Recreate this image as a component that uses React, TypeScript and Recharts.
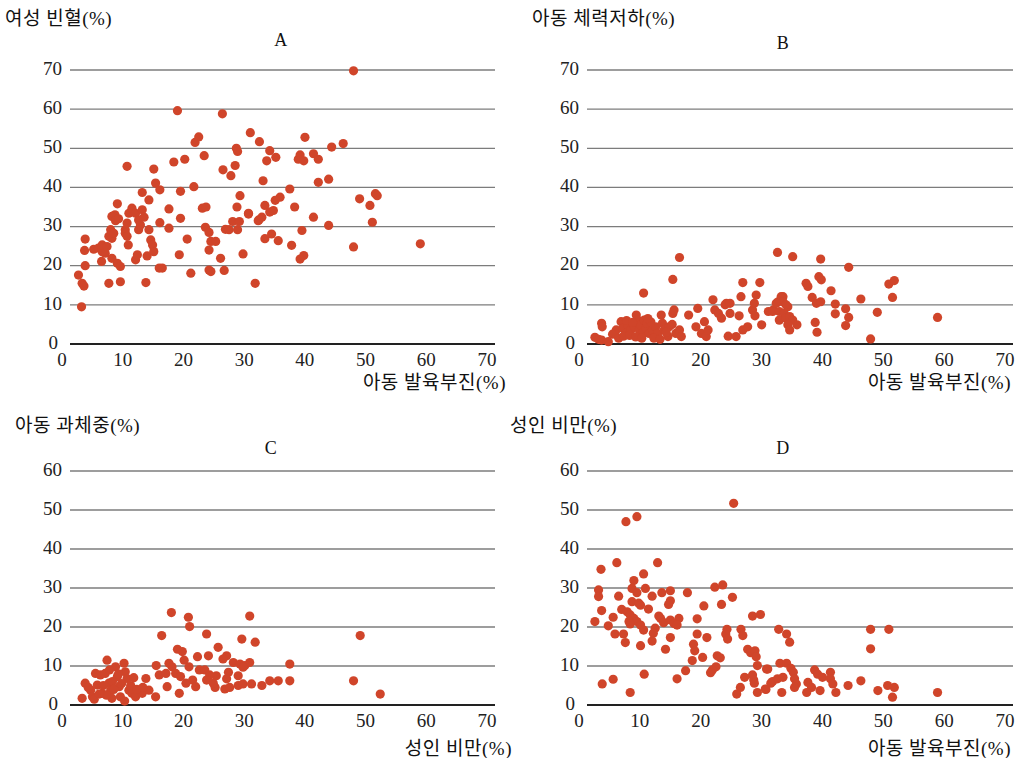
import { ScatterChart, Scatter, XAxis, YAxis, CartesianGrid } from "recharts"

// [x, y] pairs
const pointsA: [number, number][] = [
  [1.4, 17.6], [2.0, 15.5], [2.3, 14.8], [1.9, 9.5], [2.5, 26.8], [2.4, 23.9], [2.5, 20.0], [3.9, 24.2],
  [4.7, 24.5], [5.3, 23.6], [5.3, 25.3], [5.8, 23.2], [5.2, 21.1], [6.1, 24.9], [6.4, 27.5], [6.9, 27],
  [6.7, 29.2], [7.2, 28.3], [7.4, 33], [6.9, 32.6], [7.8, 35.8], [7.5, 31.5], [8, 32], [6.4, 15.5],
  [6.9, 21.9], [7.8, 20.6], [8.3, 19.8], [8.3, 15.9], [9.1, 29.2], [9.4, 30.9], [9.1, 28.3], [9.4, 27.5],
  [9.6, 25.3], [9.4, 45.4], [9.7, 33.4], [10.2, 34.7], [10.8, 33.4], [10.8, 21.5], [11.1, 22.8], [11.3, 29.2],
  [11.3, 31.7], [11.9, 38.7], [11.9, 34.3], [12.2, 32.4], [11.6, 30.4], [12.5, 15.7], [12.7, 22.5], [13, 29.2],
  [13, 36.8], [13.3, 26.6], [13.6, 25.3], [13.8, 23.6], [13.8, 44.7], [14.1, 41.1], [14.8, 39.4], [14.8, 31],
  [14.7, 19.4], [15.2, 19.4], [16.3, 34.5], [16.3, 29.6], [17.1, 46.5], [17.7, 59.6], [18, 22.8], [18.2, 39],
  [18.2, 32.1], [18.9, 47.2], [19.3, 26.8], [19.9, 18.1], [20.4, 40.2], [20.6, 51.5], [21.2, 52.9], [21.8, 34.7],
  [22.1, 48.1], [22.4, 35], [22.3, 29.8], [22.9, 28.5], [23.2, 26.2], [22.9, 24], [22.9, 18.9], [23.2, 18.5],
  [24, 26.2], [24.8, 21.9], [25.1, 58.8], [25.2, 44.5], [25.4, 18.8], [25.6, 29.3], [26.2, 29.2], [26.5, 43],
  [27.2, 45.6], [27.4, 50], [27.6, 49.2], [27.5, 35], [26.8, 31.3], [27.6, 29.2], [27.9, 31.3], [28, 37.9],
  [28.5, 23], [29.4, 33.2], [29.7, 54], [30.5, 15.5], [31.1, 31.7], [31.2, 51.7], [32.9, 49.4], [32.4, 46.8],
  [33.9, 47.7], [31.8, 41.7], [36.2, 39.6], [34.6, 37.5], [33.8, 36.7], [32.1, 35.4], [32.9, 33.7], [33.5, 34.1],
  [37, 35], [29.4, 33.4], [31, 31.5], [31.6, 32.4], [32.1, 26.9], [33.2, 28.1], [34.3, 26.4], [36.5, 25.2],
  [38.2, 29], [37.9, 21.7], [38.5, 22.6], [38.7, 52.8], [37.9, 48.3], [37.6, 47.2], [38.5, 46.8], [40.1, 48.6],
  [40.9, 47.2], [40.9, 41.3], [42.6, 42.1], [40.1, 32.4], [42.6, 30.3], [43.1, 50.3], [45, 51.2], [46.7, 69.8],
  [46.7, 24.8], [47.7, 37.1], [49.4, 35.4], [49.8, 31.1], [50.3, 38.4], [50.6, 37.9], [57.7, 25.6],
]

const pointsB: [number, number][] = [
  [1.3, 1.7], [2.4, 1], [1.9, 1.2], [2.4, 5.3], [2.5, 4.4], [3.5, 0.6], [4.8, 3.6], [5.6, 5.7],
  [5.9, 4], [6.4, 2.7], [6.7, 4.9], [7.2, 3.6], [7.8, 4.4], [8.1, 7.4], [8.3, 6.1], [8.6, 3.6],
  [8.8, 4.9], [9.1, 2.7], [9.4, 6.1], [9.7, 4], [9.9, 5.3], [10.2, 2.7], [9.3, 13], [10.8, 3.6],
  [11.3, 4.4], [11.6, 2.7], [12.2, 7.4], [12.4, 5.3], [12.7, 3.6], [13.3, 1.9], [13.5, 4.4], [14.1, 7.8],
  [14.3, 8.7], [14.1, 16.5], [15.2, 22.1], [14.6, 2.7], [15.2, 3.6], [15.5, 1.9], [16.7, 7.4], [18.2, 9.1],
  [17.9, 4.4], [18.8, 2.7], [19.3, 5.7], [19.6, 1.9], [19.9, 3.6], [20.7, 11.3], [21, 8.7], [21.6, 7.8],
  [22.1, 6.6], [22.7, 10], [22.9, 10.4], [23.2, 2], [23.5, 10.4], [23.5, 7.8], [24.5, 1.9], [25, 7.2],
  [25.3, 12.1], [25.6, 15.7], [25.6, 3.6], [26.4, 4.4], [27.2, 8.7], [27.5, 10.4], [27.6, 7.2], [27.8, 12.5],
  [28.4, 15.7], [28.7, 4.9], [29.8, 8.3], [30.6, 8.7], [31.4, 10.8], [31.3, 23.4], [32.2, 12.1], [33, 9.5],
  [33.3, 6.6], [33.8, 22.3], [38.4, 21.7], [43, 19.6], [36, 15.5], [36.3, 14.7], [38.1, 17.2], [38.5, 16.4],
  [40.1, 13.6], [37, 11.9], [37.7, 10.4], [38.4, 10.8], [40.8, 10.2], [42.5, 9], [40.8, 7.7], [43, 6.8],
  [42.5, 4.7], [37.5, 5.5], [37.8, 3], [45, 11.5], [47.7, 8.1], [46.6, 1.3], [49.6, 15.3], [50.5, 16.2],
  [50.2, 11.9], [57.6, 6.8], [31.9, 12.1], [32.2, 10.8], [31.1, 10.4], [32.7, 10], [30.5, 8.3], [31.6, 8.3],
  [32.4, 7.8], [31.6, 6.1], [32.7, 6.6], [33.3, 7], [33.8, 6.1], [33, 4.9], [34.5, 4.9], [33.3, 3.6],
  [4.2, 2.5], [5.2, 1.5], [6, 2], [7, 2.2], [8, 1.8], [10.5, 5.6], [11, 1.5], [12, 1.2],
  [6.5, 6], [7.5, 5.5], [9, 1.5], [10, 6.5], [13, 3], [14, 5],
]

const pointsC: [number, number][] = [
  [2, 1.7], [2.5, 5.6], [3.4, 3.8], [3.7, 2.1], [4.2, 8.1], [4.5, 5.1], [5, 7.7], [5.3, 3],
  [5.8, 8.1], [6.1, 11.5], [6.4, 5.6], [6.7, 3.8], [6.9, 1.7], [7.5, 9.8], [7.8, 7.3], [8.1, 4.7],
  [8.3, 2.1], [8.9, 10.7], [9.1, 8.5], [9.4, 6.8], [9.7, 3.8], [10.2, 3], [10.8, 2.1], [11.9, 3],
  [12.5, 6.8], [13, 3.8], [14.1, 2.1], [14.2, 10.1], [15.1, 17.8], [14.7, 7.7], [15.8, 8.1], [16, 4.7],
  [16.3, 10.7], [16.7, 23.7], [16.8, 9.8], [17.4, 8.1], [17.7, 14.3], [18, 3], [18.2, 7.3], [18.5, 13.7],
  [18.8, 11.5], [19.1, 5.6], [19.5, 22.5], [19.7, 20.1], [19.6, 9.8], [20.2, 6.4], [20.7, 4.7], [21, 12.4],
  [21.3, 9], [29.6, 22.8], [22.5, 18.2], [28.3, 16.9], [30.5, 16.1], [47.8, 17.8], [24.4, 14.8], [25.8, 12.6],
  [25.2, 11.8], [22.8, 12.6], [26.9, 10.9], [28, 10.5], [28.8, 10.1], [29.6, 10.9], [28.5, 9.7], [36.2, 10.5],
  [26.1, 8.4], [27.7, 7.5], [25.8, 6.7], [24.1, 7.5], [23.9, 4.5], [25.5, 4.1], [26.3, 4.5], [27.7, 5],
  [28.5, 5.4], [29.9, 5.4], [31.6, 5], [32.9, 6.2], [34.3, 6.2], [36.2, 6.2], [46.7, 6.2], [51.1, 2.8],
  [22.2, 9], [23, 7.7], [22.5, 6.4], [23.6, 5.6], [3, 4.5], [4, 1.5], [5.5, 5], [6, 2.5],
  [7, 6], [7.2, 4], [8.5, 5.5], [9, 1], [10, 5], [10.5, 7], [11, 4], [4.8, 2.8],
  [6.5, 9], [8, 8], [12, 4.5],
]

const pointsD: [number, number][] = [
  [24.1, 51.7], [6.4, 47], [8.2, 48.3], [4.9, 36.5], [11.6, 36.5], [2.3, 34.8], [9.3, 33.6], [7.7, 31.9],
  [9.6, 29.9], [7.4, 29.9], [8.2, 28.8], [1.9, 29.5], [1.9, 27.8], [5.2, 27.9], [10.7, 27.9], [12.3, 28.8],
  [13.7, 29.3], [16.5, 28.8], [21, 30.2], [22.3, 30.8], [23.9, 27.6], [22.1, 25.8], [19.2, 25.4], [13.7, 26.7],
  [13.4, 25.8], [7.4, 26.5], [8.5, 26.1], [8.8, 25.6], [10.1, 24.6], [5.7, 24.5], [2.4, 24.2], [6.6, 23.9],
  [7.1, 23.1], [4.3, 22.5], [11.8, 22.8], [12.1, 22.2], [7.7, 22.2], [6.9, 21.4], [8.2, 21.4], [12.6, 21.1],
  [13.7, 21.8], [15.1, 22.2], [14.3, 20.9], [14.8, 20.5], [18.1, 22.1], [1.3, 21.4], [3.5, 20.3], [7.1, 20.8],
  [8.8, 20.5], [9.3, 19.2], [11.2, 19.7], [10.9, 18.4], [4.6, 18.2], [6, 18.2], [18.1, 18.2], [13.7, 17.3],
  [10.7, 16.4], [6.3, 16], [19.7, 17.3], [23, 19.4], [22.8, 18.2], [23.1, 16.9], [25.3, 19.4], [25.6, 17.8],
  [27.2, 22.8], [28.5, 23.2], [8.8, 15.2], [12.9, 14.3], [17.5, 15.6], [17.7, 13.9], [19, 12.2], [17.3, 11.4],
  [21.4, 12.6], [21.9, 12.1], [26.4, 14.3], [26.9, 13.4], [27.6, 13.9], [27.8, 12.4], [28, 10.1], [29.7, 9.2],
  [21.2, 9.8], [20.6, 9], [20.3, 8.3], [16.2, 8.8], [9.4, 7.9], [14.8, 6.7], [4.3, 6.6], [2.5, 5.4],
  [7.1, 3.2], [25.9, 7.1], [27.2, 7.7], [27.4, 6.4], [27.5, 5.6], [25.2, 4.5], [24.6, 2.8], [28, 3.2],
  [29.4, 4], [30.2, 5.6], [31.5, 19.4], [32.8, 18.2], [33.3, 16.1], [46.6, 19.4], [49.6, 19.4], [46.6, 14.4],
  [31.7, 10.7], [32.8, 10.7], [33.5, 9.4], [33.9, 8.4], [29.5, 9.2], [37.4, 9], [37.9, 7.9], [38.7, 7.1],
  [40, 8.4], [40, 6.7], [40.4, 5.4], [42.9, 5], [45, 6.2], [30.5, 6], [31.3, 6.7], [32.2, 7.1],
  [34.1, 6.7], [34.4, 5.4], [34.1, 4.5], [36.3, 5.8], [36.9, 4.5], [36.1, 3.2], [38.3, 3.7], [40.9, 3.2],
  [29.3, 4.1], [32, 3.2], [47.8, 3.7], [49.4, 5], [50.5, 4.5], [50.2, 2], [57.6, 3.2],
]

const xTicks = [0, 10, 20, 30, 40, 50, 60, 70]
const yTicks70 = [0, 10, 20, 30, 40, 50, 60, 70]
const yTicks60 = [0, 10, 20, 30, 40, 50, 60]

const DOT = "#d0452a"
const SERIF = "'Liberation Serif', 'Noto Sans CJK KR', serif"

function XTick({ x, y, payload }: any) {
  return (
    <text x={x - 8} y={y + 1} dy="0.71em" textAnchor="middle" fontSize={19} fill="#222" fontFamily={SERIF}>
      {payload.value}
    </text>
  )
}

function YTick({ x, y, payload }: any) {
  // the zero label sits a little further left, clear of the x-axis zero
  const shift = payload.value === 0 ? -4 : 0
  return (
    <text x={x + shift} y={y - 2} dy="0.355em" textAnchor="end" fontSize={19} fill="#222" fontFamily={SERIF}>
      {payload.value}
    </text>
  )
}

function Dot({ cx, cy }: any) {
  return <circle cx={cx} cy={cy} r={4.6} fill={DOT} />
}

interface PanelProps {
  points: [number, number][]
  left: number
  top: number
  height: number
  marginTop: number
  marginRight: number
  marginBottom: number
  yWidth: number
  yTicks: number[]
}

function Panel({ points, left, top, height, marginTop, marginRight, marginBottom, yWidth, yTicks }: PanelProps) {
  const data = points.map(([x, y]) => ({ x, y }))
  const yMax = yTicks[yTicks.length - 1]
  return (
    <div style={{ position: "absolute", left, top }}>
      <ScatterChart
        width={509}
        height={height}
        margin={{ top: marginTop, right: marginRight, bottom: marginBottom, left: 0 }}
      >
        <CartesianGrid vertical={false} stroke="#7c7c7c" strokeWidth={1.3} />
        <XAxis
          type="number"
          dataKey="x"
          domain={[0, 70]}
          ticks={xTicks}
          interval={0}
          tickLine={false}
          axisLine={{ stroke: "#222", strokeWidth: 2 }}
          tick={<XTick />}
          height={20}
        />
        <YAxis
          type="number"
          dataKey="y"
          domain={[0, yMax]}
          ticks={yTicks}
          interval={0}
          tickLine={false}
          axisLine={false}
          tick={<YTick />}
          width={yWidth}
        />
        <Scatter data={data} fill={DOT} shape={<Dot />} isAnimationActive={false} />
      </ScatterChart>
    </div>
  )
}

function Txt({ children, left, right, center, top, size = 19 }: any) {
  const style: any = {
    position: "absolute",
    top,
    fontSize: size,
    fontFamily: SERIF,
    color: "#111",
    whiteSpace: "nowrap",
    lineHeight: 1,
    letterSpacing: 0.5,
  }
  if (left !== undefined) style.left = left
  if (right !== undefined) style.right = 1018 - right
  if (center !== undefined) {
    style.left = center
    style.transform = "translateX(-50%)"
  }
  return <div style={style}>{children}</div>
}

export default function App() {
  return (
    <div style={{ position: "absolute", left: 0, top: 0, width: 1018, height: 758, background: "#fff", overflow: "hidden" }}>
      <Panel points={pointsA} left={0} top={0} height={380} marginTop={70} marginRight={14} marginBottom={16} yWidth={70} yTicks={yTicks70} />
      <Panel points={pointsB} left={509} top={0} height={380} marginTop={70} marginRight={5} marginBottom={16} yWidth={78} yTicks={yTicks70} />
      <Panel points={pointsC} left={0} top={380} height={378} marginTop={91} marginRight={14} marginBottom={33} yWidth={70} yTicks={yTicks60} />
      <Panel points={pointsD} left={509} top={380} height={378} marginTop={91} marginRight={5} marginBottom={33} yWidth={78} yTicks={yTicks60} />

      <Txt left={5} top={9}>여성 빈혈(%)</Txt>
      <Txt center={281} top={31} size={18}>A</Txt>
      <Txt right={506} top={373}>아동 발육부진(%)</Txt>

      <Txt left={532} top={9}>아동 체력저하(%)</Txt>
      <Txt center={783} top={34} size={18}>B</Txt>
      <Txt right={1011} top={373}>아동 발육부진(%)</Txt>

      <Txt left={15} top={416}>아동 과체중(%)</Txt>
      <Txt center={271} top={439} size={18}>C</Txt>
      <Txt right={512} top={739}>성인 비만(%)</Txt>

      <Txt left={510} top={416}>성인 비만(%)</Txt>
      <Txt center={783} top={439} size={18}>D</Txt>
      <Txt right={1011} top={739}>아동 발육부진(%)</Txt>
    </div>
  )
}
